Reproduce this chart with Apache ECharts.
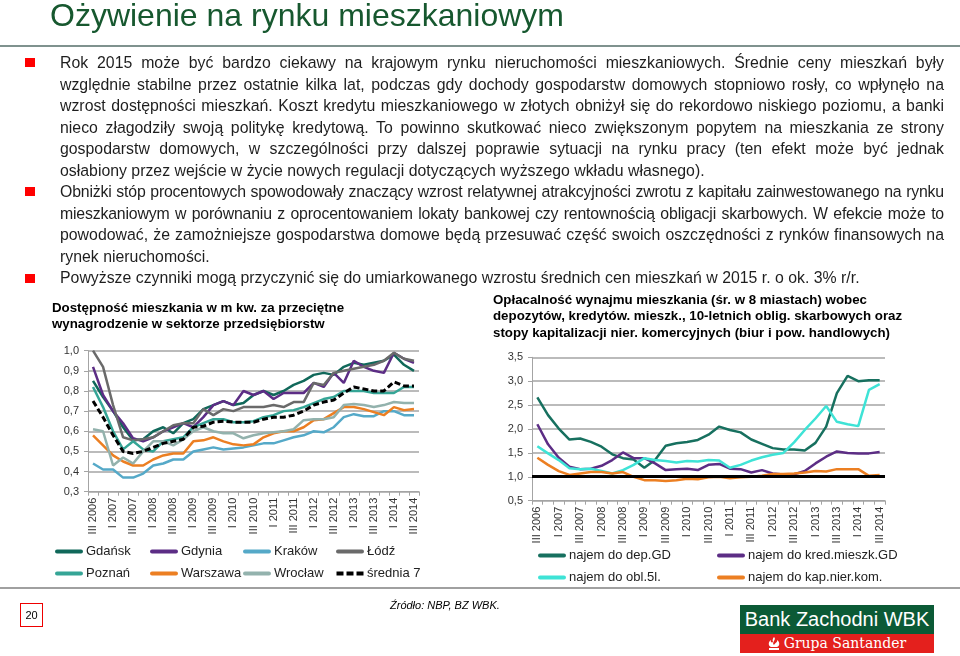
<!DOCTYPE html>
<html><head><meta charset="utf-8">
<script src="https://cdn.jsdelivr.net/npm/echarts/dist/echarts.min.js"></script>
<style>
html,body{margin:0;padding:0;background:#fff;}
#wrap{position:relative;width:960px;height:656px;overflow:hidden;font-family:"Liberation Sans",Arial,sans-serif;}
#chart{position:absolute;left:0;top:0;width:960px;height:656px;}
.ttl{position:absolute;left:50px;top:-3px;font-size:32px;color:#17582f;white-space:nowrap;}
.rule{position:absolute;left:0;width:960px;height:2px;background:#7f928e;}
.ln{position:absolute;left:60px;width:884px;font-size:15.85px;line-height:21.5px;height:21.5px;color:#1e1e1e;white-space:nowrap;}
.j{text-align:justify;text-align-last:justify;}
.tight{letter-spacing:-0.18px;}
.bullet{position:absolute;left:25px;width:10px;height:9px;background:#f00;}
.src{position:absolute;left:390px;top:599px;font-size:11px;font-style:italic;color:#000;}
.pg{position:absolute;left:20px;top:603px;width:21px;height:22px;border:1px solid #e00;font-size:11px;line-height:22px;text-align:center;color:#000;}
.lg1{position:absolute;left:740px;top:605px;width:194px;height:29px;background:#0b5a36;color:#fff;font-size:20px;line-height:29px;text-align:center;}
.lg2{position:absolute;left:740px;top:634px;width:194px;height:19px;background:#e4201d;color:#fff;font-family:"DejaVu Serif",serif;font-size:14px;line-height:19px;text-align:center;}
</style></head>
<body><div id="wrap">
<div id="chart"></div>
<div class="ttl">Ożywienie na rynku mieszkaniowym</div>
<div class="rule" style="top:45px"></div>
<div class="rule" style="top:587px;background:#a0a0a0"></div>
<div class="bullet" style="top:58px"></div>
<div class="bullet" style="top:187px"></div>
<div class="bullet" style="top:274px"></div>
<div class="ln j" style="top:52px">Rok 2015 może być bardzo ciekawy na krajowym rynku nieruchomości mieszkaniowych. Średnie ceny mieszkań były</div>
<div class="ln j" style="top:73.5px">względnie stabilne przez ostatnie kilka lat, podczas gdy dochody gospodarstw domowych stopniowo rosły, co wpłynęło na</div>
<div class="ln j" style="top:95px">wzrost dostępności mieszkań. Koszt kredytu mieszkaniowego w złotych obniżył się do rekordowo niskiego poziomu, a banki</div>
<div class="ln j" style="top:116.5px">nieco złagodziły swoją politykę kredytową. To powinno skutkować nieco zwiększonym popytem na mieszkania ze strony</div>
<div class="ln j" style="top:138px">gospodarstw domowych, w szczególności przy dalszej poprawie sytuacji na rynku pracy (ten efekt może być jednak</div>
<div class="ln" style="top:159.5px">osłabiony przez wejście w życie nowych regulacji dotyczących wyższego wkładu własnego).</div>
<div class="ln j tight" style="top:181px">Obniżki stóp procentowych spowodowały znaczący wzrost relatywnej atrakcyjności zwrotu z kapitału zainwestowanego na rynku</div>
<div class="ln j tight" style="top:202.5px">mieszkaniowym w porównaniu z oprocentowaniem lokaty bankowej czy rentownością obligacji skarbowych. W efekcie może to</div>
<div class="ln j" style="top:224px">powodować, że zamożniejsze gospodarstwa domowe będą przesuwać część swoich oszczędności z rynków finansowych na</div>
<div class="ln" style="top:245.5px">rynek nieruchomości.</div>
<div class="ln" style="top:267px">Powyższe czynniki mogą przyczynić się do umiarkowanego wzrostu średnich cen mieszkań w 2015 r. o ok. 3% r/r.</div>
<div class="pg">20</div>
<div class="src">Źródło: NBP, BZ WBK.</div>
<div class="lg1">Bank Zachodni WBK</div>
<div class="lg2"><svg width="12" height="13" viewBox="0 0 12 13" style="vertical-align:-2px;margin-right:4px"><path d="M6 0 C9 3 3 5 6 8 C7 6 10 5 9 3 C12 5 12 9 9 10 L3 10 C0 9 0 5 3 3 C2 5 4 6 5 5 C4 3 5 1 6 0Z" fill="#fff"/><rect x="1" y="11" width="10" height="2" fill="#fff"/></svg>Grupa Santander</div>
</div>
<script>
const quarters = ['III 2006','IV 2006',
 'I 2007','II 2007','III 2007','IV 2007',
 'I 2008','II 2008','III 2008','IV 2008',
 'I 2009','II 2009','III 2009','IV 2009',
 'I 2010','II 2010','III 2010','IV 2010',
 'I 2011','II 2011','III 2011','IV 2011',
 'I 2012','II 2012','III 2012','IV 2012',
 'I 2013','II 2013','III 2013','IV 2013',
 'I 2014','II 2014','III 2014'];

// Left chart: affordability (m2 per average wage)
const gdansk   = [0.85,0.77,0.70,0.62,0.555,0.56,0.60,0.62,0.59,0.64,0.66,0.71,0.73,0.75,0.73,0.74,0.78,0.80,0.78,0.80,0.83,0.85,0.88,0.89,0.88,0.92,0.94,0.93,0.94,0.95,0.98,0.93,0.90];
const gdynia   = [0.92,0.78,0.70,0.64,0.565,0.55,0.57,0.60,0.62,0.64,0.62,0.67,0.73,0.75,0.73,0.80,0.78,0.80,0.76,0.79,0.79,0.79,0.84,0.82,0.89,0.84,0.95,0.92,0.90,0.89,0.99,0.96,0.94];
const krakow   = [0.44,0.41,0.41,0.37,0.37,0.39,0.43,0.44,0.46,0.46,0.50,0.51,0.52,0.51,0.515,0.52,0.53,0.54,0.54,0.555,0.57,0.58,0.60,0.595,0.62,0.67,0.685,0.675,0.675,0.70,0.70,0.68,0.68];
const lodz     = [1.00,0.92,0.73,0.57,0.555,0.56,0.57,0.60,0.63,0.64,0.64,0.71,0.68,0.71,0.70,0.72,0.72,0.72,0.73,0.72,0.745,0.745,0.84,0.83,0.89,0.90,0.91,0.92,0.93,0.95,0.99,0.96,0.95];
const poznan   = [0.82,0.72,0.60,0.51,0.55,0.51,0.50,0.55,0.56,0.57,0.62,0.64,0.66,0.66,0.645,0.645,0.65,0.67,0.68,0.70,0.705,0.72,0.74,0.76,0.77,0.80,0.80,0.80,0.79,0.79,0.79,0.82,0.82];
const warszawa = [0.58,0.53,0.48,0.45,0.43,0.43,0.46,0.48,0.49,0.49,0.55,0.555,0.57,0.55,0.535,0.53,0.535,0.57,0.59,0.60,0.60,0.62,0.655,0.66,0.69,0.72,0.72,0.71,0.695,0.68,0.72,0.705,0.71];
const wroclaw  = [0.61,0.60,0.43,0.47,0.44,0.50,0.55,0.55,0.53,0.56,0.60,0.62,0.60,0.59,0.59,0.565,0.58,0.59,0.595,0.60,0.61,0.655,0.66,0.66,0.67,0.73,0.735,0.73,0.72,0.73,0.745,0.74,0.74];
const srednia7 = [0.75,0.67,0.58,0.50,0.49,0.50,0.52,0.54,0.55,0.56,0.62,0.625,0.645,0.65,0.645,0.645,0.645,0.66,0.67,0.67,0.68,0.70,0.73,0.745,0.755,0.79,0.82,0.81,0.80,0.80,0.845,0.825,0.825];

// Right chart: rental profitability ratios
const najemDep  = [2.66,2.29,2.01,1.78,1.80,1.73,1.63,1.47,1.39,1.36,1.19,1.35,1.65,1.70,1.73,1.77,1.88,2.05,1.98,1.93,1.78,1.69,1.60,1.57,1.57,1.55,1.71,2.05,2.75,3.11,3.00,3.02,3.02];
const najemKred = [2.10,1.68,1.40,1.21,1.16,1.17,1.23,1.35,1.51,1.39,1.39,1.28,1.14,1.16,1.17,1.14,1.25,1.27,1.17,1.16,1.09,1.14,1.07,1.05,1.05,1.12,1.28,1.42,1.53,1.50,1.49,1.49,1.52];
const najemObl  = [1.64,1.49,1.35,1.18,1.16,1.17,1.12,1.07,1.14,1.25,1.39,1.35,1.33,1.30,1.33,1.32,1.35,1.34,1.19,1.25,1.34,1.41,1.46,1.50,1.72,1.98,2.22,2.48,2.15,2.10,2.06,2.82,2.94];
const najemKap  = [1.40,1.25,1.12,1.04,1.07,1.10,1.10,1.07,1.10,1.00,0.93,0.93,0.91,0.93,0.96,0.95,0.99,1.00,0.97,0.99,1.00,1.02,1.06,1.06,1.07,1.09,1.12,1.11,1.16,1.16,1.16,1.02,1.04];
const refLevel = 1.02;

const FONT = 'Liberation Sans';
const GRID_C = '#a4a4a4';
const chart = echarts.init(document.getElementById('chart'));

function xAxis(gi){
  return {type:'category', gridIndex:gi, data:quarters, boundaryGap:true,
    axisLine:{lineStyle:{color:GRID_C,width:1}},
    axisTick:{show:true, interval:0, length:4, lineStyle:{color:GRID_C}},
    axisLabel:{interval:1, rotate:90, fontSize:11, color:'#333', margin:6, fontFamily:FONT}};
}
function yAxis(gi,min,max,step){
  return {type:'value', gridIndex:gi, min:min, max:max, interval:step,
    axisLine:{show:true, lineStyle:{color:GRID_C,width:1}},
    axisTick:{show:true, length:4, lineStyle:{color:GRID_C}},
    splitLine:{lineStyle:{color:GRID_C, width:1.5}},
    axisLabel:{formatter:v=>v.toFixed(1).replace('.',','), fontSize:11, color:'#333', margin:9, fontFamily:FONT}};
}
function line(name,data,color,gi,extra){
  return Object.assign({name:name, type:'line', data:data, xAxisIndex:gi, yAxisIndex:gi,
    symbol:'none', smooth:false, lineStyle:{color:color, width:2.5}, itemStyle:{color:color}}, extra||{});
}
const BAR = 'path://M2,0L26,0A2,2,0,0,1,26,4L2,4A2,2,0,0,1,2,0Z';
const DASH = 'path://M0,0L7,0L7,4L0,4Z M10,0L17,0L17,4L10,4Z M20,0L27,0L27,4L20,4Z';
const legendBase = {orient:'vertical', itemWidth:28, itemHeight:4, itemGap:9, icon:BAR,
  textStyle:{fontSize:13, color:'#222', fontFamily:FONT, padding:[0,0,0,-2]}, padding:0};
function items(names){ return names.map(n => n==='średnia 7' ? {name:n, icon:DASH} : {name:n}); }

chart.setOption({
  animation:false,
  textStyle:{fontFamily:FONT},
  title:[
    {text:'Dostępność mieszkania w m kw. za przeciętne\nwynagrodzenie w sektorze przedsiębiorstw', left:52, top:300, padding:0,
     textStyle:{fontSize:13.3, fontWeight:'bold', color:'#000', lineHeight:16.5, fontFamily:FONT}},
    {text:'Opłacalność wynajmu mieszkania (śr. w 8 miastach) wobec\ndepozytów, kredytów. mieszk., 10-letnich oblig. skarbowych oraz\nstopy kapitalizacji nier. komercyjnych (biur i pow. handlowych)', left:493, top:292, padding:0,
     textStyle:{fontSize:13.3, fontWeight:'bold', color:'#000', lineHeight:16.5, fontFamily:FONT}}
  ],
  grid:[
    {left:88, top:350.7, width:331, height:141, containLabel:false},
    {left:532, top:357.3, width:353, height:143.4, containLabel:false}
  ],
  xAxis:[xAxis(0), xAxis(1)],
  yAxis:[yAxis(0,0.3,1.0,0.1), yAxis(1,0.5,3.5,0.5)],
  legend:[
    Object.assign({data:items(['Gdańsk','Poznań']), left:55, top:545}, legendBase),
    Object.assign({data:items(['Gdynia','Warszawa']), left:150, top:545}, legendBase),
    Object.assign({data:items(['Kraków','Wrocław']), left:243, top:545}, legendBase),
    Object.assign({data:items(['Łódź','średnia 7']), left:336, top:545}, legendBase),
    Object.assign({data:items(['najem do dep.GD','najem do obl.5l.']), left:538, top:549}, legendBase),
    Object.assign({data:items(['najem do kred.mieszk.GD','najem do kap.nier.kom.']), left:717, top:549}, legendBase)
  ],
  series:[
    line('Gdańsk',gdansk,'#10685a',0),
    line('Gdynia',gdynia,'#5c2d85',0),
    line('Kraków',krakow,'#55a9c8',0),
    line('Łódź',lodz,'#6a6a6a',0),
    line('Poznań',poznan,'#35a596',0),
    line('Warszawa',warszawa,'#ec7f22',0),
    line('Wrocław',wroclaw,'#93b2ad',0),
    line('średnia 7',srednia7,'#000',0,{lineStyle:{color:'#000',width:3,type:[6,3]}}),
    line('najem do dep.GD',najemDep,'#17705f',1),
    line('najem do kred.mieszk.GD',najemKred,'#5c2d85',1),
    line('najem do obl.5l.',najemObl,'#3ee3d6',1),
    line('najem do kap.nier.kom.',najemKap,'#ec7f22',1,{markLine:{silent:true, symbol:['none','none'], label:{show:false},
      lineStyle:{color:'#000', width:3, type:'solid'}, data:[{yAxis:refLevel}]}})
  ]
});
</script>
</body></html>
